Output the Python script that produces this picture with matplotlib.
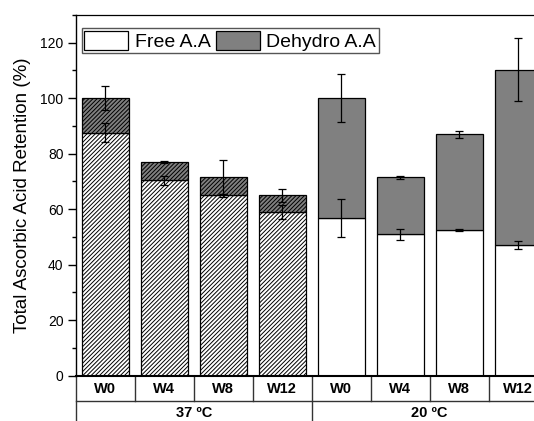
import numpy as np
import matplotlib
matplotlib.use('Agg')
import matplotlib.pyplot as plt
from matplotlib.ticker import MultipleLocator
from matplotlib.patches import Patch

plt.rcParams['font.family'] = ['Liberation Sans', 'DejaVu Sans']
plt.rcParams['hatch.linewidth'] = 0.7

# retention data, 8 samples (4 weeks x 2 storage temps)
weeks = ['W0', 'W4', 'W8', 'W12', 'W0', 'W4', 'W8', 'W12']
temps = ['37 \u00baC', '20 \u00baC']
free_aa = np.array([87.5, 70.4, 65.0, 59.0, 56.8, 51.0, 52.6, 47.2])
free_err = np.array([3.4, 1.7, 0.5, 2.7, 6.9, 2.0, 0.3, 1.5])
total_aa = np.array([100.0, 77.0, 71.6, 65.0, 100.0, 71.5, 87.0, 110.3])
total_err = np.array([4.3, 0.3, 6.2, 2.4, 8.7, 0.6, 1.3, 11.4])
dehydro_aa = total_aa - free_aa

x = np.arange(len(weeks))
hatches = ['////////'] * 4 + [None] * 4

fig = plt.figure(figsize=(5.34, 4.21), dpi=100)
ax = fig.add_axes([0.1423, 0.1076, 0.8831, 0.8568])

for i in range(len(x)):
    ax.bar(x[i], free_aa[i], width=0.8, color='white', edgecolor='black',
           linewidth=0.9, hatch=hatches[i], zorder=2)
    ax.bar(x[i], dehydro_aa[i], bottom=free_aa[i], width=0.8, color='#808080',
           edgecolor='black', linewidth=0.9, hatch=hatches[i], zorder=2)

ax.errorbar(x, free_aa, yerr=free_err, fmt='none', ecolor='black',
            elinewidth=0.9, capsize=2.6, capthick=0.9, zorder=3)
ax.errorbar(x, total_aa, yerr=total_err, fmt='none', ecolor='black',
            elinewidth=0.9, capsize=2.6, capthick=0.9, zorder=3)

ax.set_xlim(-0.5, 7.5)
ax.set_ylim(0, 130)
ax.yaxis.set_major_locator(MultipleLocator(20))
ax.yaxis.set_minor_locator(MultipleLocator(10))
ax.tick_params(axis='y', which='major', direction='out', length=5.5, width=1,
               labelsize=10, pad=3.5)
ax.tick_params(axis='y', which='minor', direction='out', length=3, width=1)
ax.set_yticks([0, 20, 40, 60, 80, 100, 120])
ax.set_xticks([])

ax.spines['bottom'].set_linewidth(1.5)
ax.spines['left'].set_linewidth(1.0)
ax.spines['top'].set_linewidth(0.9)

ax.set_ylabel('Total Ascorbic Acid Retention (%)', fontsize=13.5)
ax.yaxis.set_label_coords(-0.095, 0.5)

# two-row category table under the axis
trans = ax.get_xaxis_transform()
row_y = -0.0701
line_kw = dict(color='#333333', lw=1.0, clip_on=False, transform=trans)
ax.plot([-0.5, 7.5], [row_y, row_y], **line_kw)
for b in [0.5, 1.5, 2.5, 4.5, 5.5, 6.5]:
    ax.plot([b, b], [0, row_y], **line_kw)
for b in [-0.5, 3.5]:
    ax.plot([b, b], [0, -0.2], **line_kw)

for i, w in enumerate(weeks):
    ax.text(x[i], -0.0377, w, transform=trans, ha='center', va='center',
            fontsize=10.5, fontweight='bold')
for g, t in enumerate(temps):
    ax.text(1.5 + 4 * g, -0.1034, t, transform=trans, ha='center', va='center',
            fontsize=10.5, fontweight='bold')

# legend with plain patches
handles = [Patch(facecolor='white', edgecolor='black', linewidth=0.9, label='Free A.A'),
           Patch(facecolor='#808080', edgecolor='black', linewidth=0.9, label='Dehydro A.A')]
leg = ax.legend(handles=handles, loc='upper left', bbox_to_anchor=(0.012, 0.963),
                borderaxespad=0, ncol=2, fontsize=14, handlelength=2.27,
                handleheight=1.1, handletextpad=0.33, columnspacing=0.27,
                borderpad=0.13, fancybox=False, framealpha=1)
leg.get_frame().set_edgecolor('#555555')
leg.get_frame().set_linewidth(1.0)

fig.savefig('out.png', dpi=100)
